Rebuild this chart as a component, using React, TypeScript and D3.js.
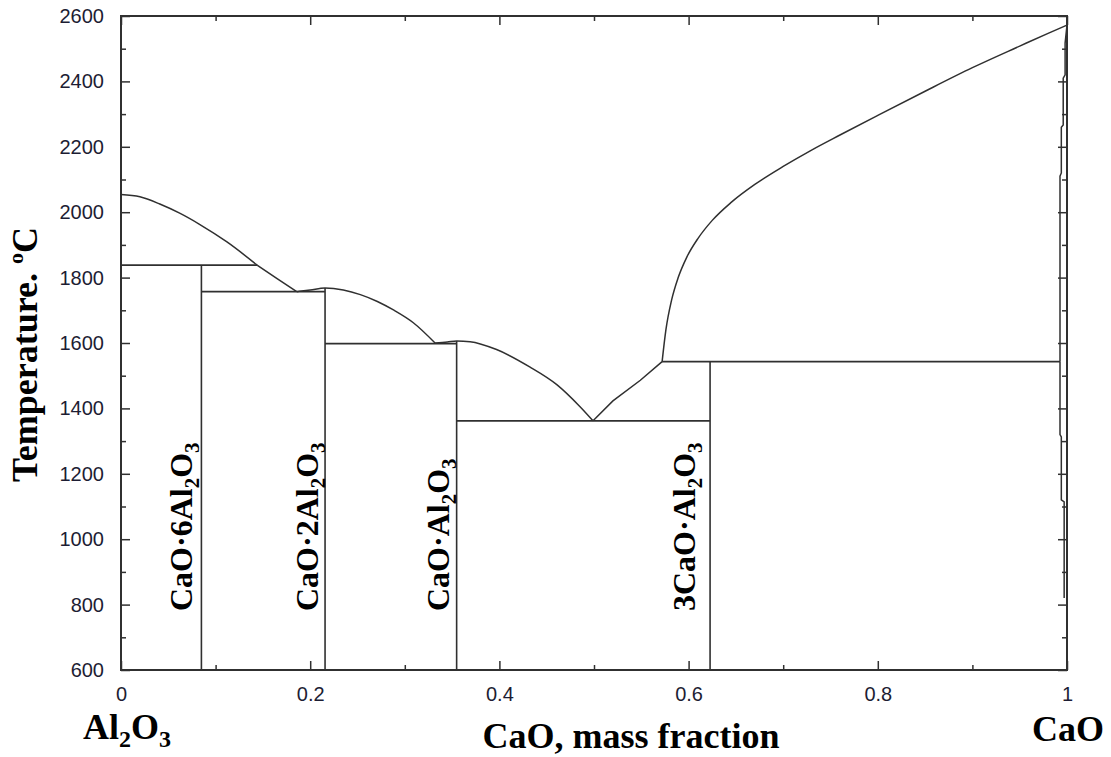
import React, { useRef, useEffect } from "react";
import * as d3 from "d3";

// CaO mass fraction vs temperature (°C)
const al2o3Liquidus: [number, number][] = [
  [0, 2054], [0.02, 2047], [0.041, 2025], [0.062, 1997], [0.083, 1963], [0.112, 1909], [0.144, 1838],
];
const ca6Liquidus: [number, number][] = [[0.144, 1838], [0.165, 1797], [0.186, 1757]];
const ca2Liquidus: [number, number][] = [
  [0.186, 1757], [0.2, 1762], [0.2157, 1768], [0.235, 1762], [0.253, 1748], [0.271, 1727],
  [0.288, 1701], [0.309, 1662], [0.332, 1600],
];
const caLiquidus: [number, number][] = [
  [0.332, 1600], [0.345, 1603], [0.3548, 1606], [0.369, 1604], [0.397, 1580], [0.432, 1527],
  [0.461, 1472], [0.485, 1406], [0.499, 1362],
];
const c3aLiquidus: [number, number][] = [[0.499, 1362], [0.52, 1423], [0.549, 1486], [0.572, 1543]];
const caoLiquidus: [number, number][] = [
  [0.572, 1543], [0.576, 1640], [0.582, 1731], [0.589, 1800], [0.598, 1862], [0.61, 1920],
  [0.625, 1975], [0.645, 2030], [0.67, 2085], [0.7, 2140], [0.73, 2190], [0.76, 2236],
  [0.8, 2296], [0.85, 2370], [0.9, 2442], [0.95, 2508], [0.98, 2547], [1.0, 2572],
];
// narrow CaO solid solution boundary next to x = 1
const caoSolidus: [number, number][] = [
  [1.0, 2572], [0.998, 2517], [0.998, 2420], [0.996, 2410], [0.996, 2267], [0.994, 2260],
  [0.994, 2120], [0.9926, 2110], [0.9926, 1543],
];
const caoSolvus: [number, number][] = [
  [0.9926, 1543], [0.9926, 1320], [0.994, 1313], [0.994, 1120], [0.997, 1114], [0.997, 820],
];

// invariant lines: [from, to, temperature]
const invariants: [number, number, number][] = [
  [0, 0.144, 1838],
  [0.085, 0.2157, 1757],
  [0.2157, 0.3548, 1598],
  [0.3548, 0.6227, 1362],
  [0.572, 0.9926, 1543],
];

// compounds: composition, top of the line, label parts (text, isSubscript)
const compounds = [
  { x: 0.085, top: 1838, parts: [["CaO·6Al", false], ["2", true], ["O", false], ["3", true]] },
  { x: 0.2157, top: 1768, parts: [["CaO·2Al", false], ["2", true], ["O", false], ["3", true]] },
  { x: 0.3548, top: 1606, parts: [["CaO·Al", false], ["2", true], ["O", false], ["3", true]] },
  { x: 0.6227, top: 1543, parts: [["3CaO·Al", false], ["2", true], ["O", false], ["3", true]] },
];

const xMajor = [0, 0.2, 0.4, 0.6, 0.8, 1];
const xMinor = [0.1, 0.3, 0.5, 0.7, 0.9];
const yMajor = [600, 800, 1000, 1200, 1400, 1600, 1800, 2000, 2200, 2400, 2600];
const yMinor = [700, 900, 1100, 1300, 1500, 1700, 1900, 2100, 2300, 2500];

const width = 1111;
const height = 757;

function PhaseDiagram() {
  const svgRef = useRef<SVGSVGElement>(null);

  useEffect(() => {
    const svg = d3.select(svgRef.current);
    svg.selectAll("*").remove();

    const x = d3.scaleLinear().domain([0, 1]).range([121, 1067]);
    const y = d3.scaleLinear().domain([600, 2600]).range([670, 16]);
    const ink = "#303030";
    const labelInk = "#1d1d33";
    const serif = "'Liberation Serif', 'Times New Roman', serif";
    const sans = "'Liberation Sans', Arial, sans-serif";

    // ticks on all four sides, pointing inward
    const axisStyle = (g, showLabels) => {
      g.select(".domain").remove();
      g.selectAll("line").attr("stroke", ink).attr("stroke-width", 1.5);
      g.selectAll("text")
        .attr("font-family", sans)
        .attr("font-size", 20)
        .attr("fill", labelInk)
        .style("display", showLabels ? null : "none");
    };
    const fmt = (d) => String(d);

    svg.append("g").attr("transform", `translate(0,${y(600)})`)
      .call(d3.axisBottom(x).tickValues(xMajor).tickSizeInner(-9).tickSizeOuter(0).tickPadding(17).tickFormat(fmt))
      .call(axisStyle, true);
    svg.append("g").attr("transform", `translate(0,${y(600)})`)
      .call(d3.axisBottom(x).tickValues(xMinor).tickSizeInner(-5).tickSizeOuter(0))
      .call(axisStyle, false);
    svg.append("g").attr("transform", `translate(0,${y(2600)})`)
      .call(d3.axisTop(x).tickValues(xMajor).tickSizeInner(-9).tickSizeOuter(0))
      .call(axisStyle, false);
    svg.append("g").attr("transform", `translate(0,${y(2600)})`)
      .call(d3.axisTop(x).tickValues(xMinor).tickSizeInner(-5).tickSizeOuter(0))
      .call(axisStyle, false);
    svg.append("g").attr("transform", `translate(${x(0)},0)`)
      .call(d3.axisLeft(y).tickValues(yMajor).tickSizeInner(-9).tickSizeOuter(0).tickPadding(17).tickFormat(fmt))
      .call(axisStyle, true);
    svg.append("g").attr("transform", `translate(${x(0)},0)`)
      .call(d3.axisLeft(y).tickValues(yMinor).tickSizeInner(-5).tickSizeOuter(0))
      .call(axisStyle, false);
    svg.append("g").attr("transform", `translate(${x(1)},0)`)
      .call(d3.axisRight(y).tickValues(yMajor).tickSizeInner(-9).tickSizeOuter(0))
      .call(axisStyle, false);
    svg.append("g").attr("transform", `translate(${x(1)},0)`)
      .call(d3.axisRight(y).tickValues(yMinor).tickSizeInner(-5).tickSizeOuter(0))
      .call(axisStyle, false);

    // phase boundaries
    const line = d3.line<[number, number]>().x(d => x(d[0])).y(d => y(d[1]));
    const smooth = d3.line<[number, number]>().x(d => x(d[0])).y(d => y(d[1])).curve(d3.curveMonotoneX);
    const curves = [al2o3Liquidus, ca6Liquidus, ca2Liquidus, caLiquidus, caoLiquidus];
    svg.append("g").selectAll("path.liq")
      .data(curves)
      .join("path")
      .attr("d", d => smooth(d))
      .attr("fill", "none")
      .attr("stroke", ink)
      .attr("stroke-width", 1.5);
    svg.append("g").selectAll("path.ss")
      .data([c3aLiquidus, caoSolidus, caoSolvus])
      .join("path")
      .attr("d", d => line(d))
      .attr("fill", "none")
      .attr("stroke", ink)
      .attr("stroke-width", 1.5);

    svg.append("g").selectAll("line")
      .data(invariants)
      .join("line")
      .attr("x1", d => x(d[0])).attr("x2", d => x(d[1]))
      .attr("y1", d => y(d[2])).attr("y2", d => y(d[2]))
      .attr("stroke", ink)
      .attr("stroke-width", 1.6);

    svg.append("g").selectAll("line")
      .data(compounds)
      .join("line")
      .attr("x1", d => x(d.x)).attr("x2", d => x(d.x))
      .attr("y1", y(600)).attr("y2", d => y(d.top))
      .attr("stroke", ink)
      .attr("stroke-width", 1.6);

    // frame
    svg.append("rect")
      .attr("x", x(0)).attr("y", y(2600))
      .attr("width", x(1) - x(0)).attr("height", y(600) - y(2600))
      .attr("fill", "none")
      .attr("stroke", ink)
      .attr("stroke-width", 2);

    // compound labels, rotated, reading upward
    const labelGap = [9, 7, 8, 15];
    compounds.forEach((c, i) => {
      const t = svg.append("text")
        .attr("transform", `translate(${x(c.x) - labelGap[i]},611) rotate(-90)`)
        .attr("font-family", serif)
        .attr("font-weight", "bold")
        .attr("font-size", 32)
        .attr("fill", "#000");
      let shifted = false;
      c.parts.forEach(([s, sub]) => {
        const dy = sub && !shifted ? 7 : !sub && shifted ? -7 : 0;
        shifted = sub as boolean;
        t.append("tspan")
          .attr("dy", dy)
          .attr("font-size", sub ? 21 : 32)
          .text(s as string);
      });
    });

    // axis titles
    const title = svg.append("text")
      .attr("transform", "translate(37,482) rotate(-90)")
      .attr("font-family", serif)
      .attr("font-weight", "bold")
      .attr("font-size", 36)
      .attr("fill", "#000");
    title.append("tspan").text("Temperature. ");
    title.append("tspan").attr("font-size", 22).attr("dy", -14).text("o");
    title.append("tspan").attr("dy", 14).text("C");

    svg.append("text")
      .attr("x", 631).attr("y", 748)
      .attr("text-anchor", "middle")
      .attr("font-family", serif)
      .attr("font-weight", "bold")
      .attr("font-size", 36)
      .attr("fill", "#000")
      .text("CaO, mass fraction");

    const left = svg.append("text")
      .attr("x", 83).attr("y", 739)
      .attr("font-family", serif)
      .attr("font-weight", "bold")
      .attr("font-size", 36)
      .attr("fill", "#000");
    left.append("tspan").text("Al");
    left.append("tspan").attr("font-size", 24).attr("dy", 8).text("2");
    left.append("tspan").attr("dy", -8).text("O");
    left.append("tspan").attr("font-size", 24).attr("dy", 8).text("3");

    svg.append("text")
      .attr("x", 1032).attr("y", 741)
      .attr("font-family", serif)
      .attr("font-weight", "bold")
      .attr("font-size", 36)
      .attr("fill", "#000")
      .text("CaO");
  }, []);

  return (
    <svg
      ref={svgRef}
      width={width}
      height={height}
      style={{ position: "absolute", left: 0, top: 0, background: "#fff" }}
    />
  );
}

export default function App() {
  return <PhaseDiagram />;
}
